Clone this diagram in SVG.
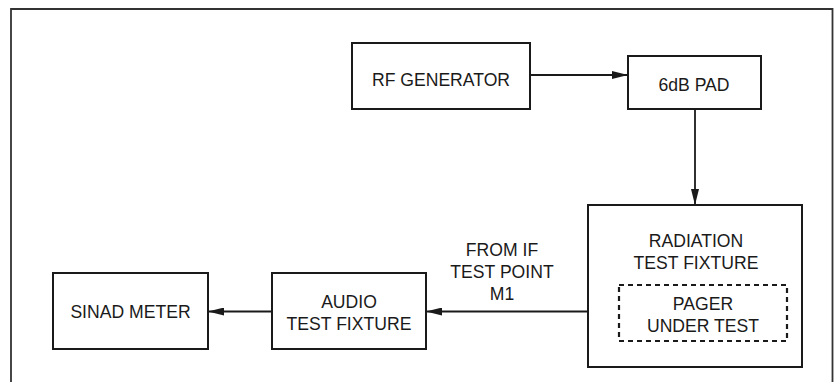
<svg xmlns="http://www.w3.org/2000/svg" width="834" height="382" viewBox="0 0 834 382">
<defs>
<marker id="arr" viewBox="0 0 16 8" refX="16" refY="4" markerWidth="16" markerHeight="8" markerUnits="userSpaceOnUse" orient="auto">
<path d="M0,0 L16,4 L0,8 Z" fill="#1a1a1a"/>
</marker>
</defs>
<style>
.box{fill:#fff;stroke:#1a1a1a;stroke-width:2}
.dash{fill:none;stroke:#1a1a1a;stroke-width:2.2;stroke-dasharray:5 4}
.ln{fill:none;stroke:#1a1a1a;stroke-width:1.8}
text{font-family:"Liberation Sans",Arial,Helvetica,sans-serif;font-size:17.6px;fill:#1a1a1a;text-anchor:middle}
</style>
<rect width="834" height="382" fill="#fff"/>
<path d="M11,382 V9 H832.5 V382" fill="none" stroke="#333" stroke-width="1.8"/>
<g id="connectors">
<line class="ln" x1="530" y1="75" x2="628" y2="75" marker-end="url(#arr)"/>
<line class="ln" x1="695" y1="109" x2="695" y2="205" marker-end="url(#arr)"/>
<line class="ln" x1="619" y1="311.5" x2="426" y2="311.5" marker-end="url(#arr)"/>
<line class="ln" x1="272" y1="311.5" x2="208" y2="311.5" marker-end="url(#arr)"/>
<g id="label-from-if">
<text x="502" y="256">FROM IF</text>
<text x="502" y="278">TEST POINT</text>
<text x="502" y="300">M1</text>
</g>
</g>
<g id="rf-generator">
<rect class="box" x="352" y="43" width="178" height="66"/>
<text x="441" y="86">RF GENERATOR</text>
</g>
<g id="pad">
<rect class="box" x="628" y="56" width="133" height="53"/>
<text x="694" y="91">6dB PAD</text>
</g>
<g id="radiation-fixture">
<rect class="box" x="588" y="205" width="214" height="162"/>
<text x="696" y="247">RADIATION</text>
<text x="696" y="269">TEST FIXTURE</text>
</g>
<g id="pager">
<rect class="dash" x="619" y="285" width="168" height="56"/>
<text x="703" y="310">PAGER</text>
<text x="703" y="332">UNDER TEST</text>
</g>
<g id="audio-fixture">
<rect class="box" x="272" y="273" width="154" height="76"/>
<text x="349" y="308">AUDIO</text>
<text x="349" y="330">TEST FIXTURE</text>
</g>
<g id="sinad-meter">
<rect class="box" x="53" y="273" width="155" height="76"/>
<text x="130.5" y="318">SINAD METER</text>
</g>
</svg>
